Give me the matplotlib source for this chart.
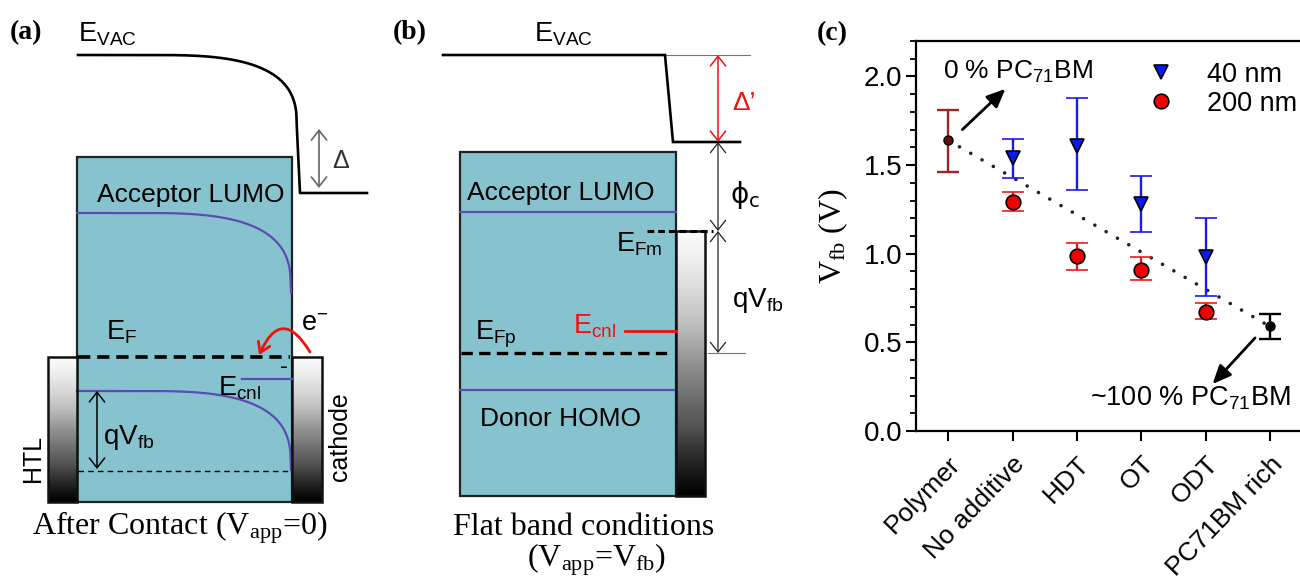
import numpy as np
import matplotlib
matplotlib.use('Agg')
import matplotlib.pyplot as plt
from matplotlib.patches import Rectangle, FancyArrowPatch
from matplotlib.lines import Line2D
from matplotlib.ticker import MultipleLocator

# ---------------- data for panel (c) ----------------
categories = ['Polymer', 'No additive', 'HDT', 'OT', 'ODT', 'PC71BM rich']
x_40nm = [1, 2, 3, 4]
vfb_40nm = [1.54, 1.61, 1.28, 0.98]
vfb_40nm_low = [1.43, 1.36, 1.12, 0.76]
vfb_40nm_high = [1.65, 1.88, 1.44, 1.20]
x_200nm = [1, 2, 3, 4]
vfb_200nm = [1.29, 0.99, 0.91, 0.67]
vfb_200nm_low = [1.24, 0.91, 0.85, 0.63]
vfb_200nm_high = [1.35, 1.06, 0.98, 0.72]
polymer_x = [0]
polymer_vfb = [1.64]
polymer_low = [1.46]
polymer_high = [1.81]
rich_x = [5]
rich_vfb = [0.59]
rich_low = [0.52]
rich_high = [0.66]
yticks = [0.0, 0.5, 1.0, 1.5, 2.0]

SANS = ['Liberation Sans', 'DejaVu Sans']
SERIF = ['Liberation Serif', 'DejaVu Serif']
plt.rcParams['font.family'] = SANS
plt.rcParams['mathtext.default'] = 'regular'

TEAL = '#87C3CE'
PURPLE = '#5A4CB2'
RED = '#F01010'

fig = plt.figure(figsize=(13, 5.85), dpi=100)
ov = fig.add_axes([0, 0, 1, 1])
ov.axis('off')


def drop_curve(x_start, x_corner, y_top, y_bottom, x_c, n=3.0, num=300):
    xs = np.linspace(x_start, x_corner, num)
    u = np.clip((xs - x_c) / (x_corner - x_c), 0, 1)
    ys = y_bottom - (y_bottom - y_top) * (1 - u ** n) ** (1.0 / n)
    return xs, ys


def dbl_arrow(x, y0, y1, color, lw=1.0, hl=0.7, hw=0.55):
    p = FancyArrowPatch((x, y0), (x, y1),
                        arrowstyle='<->,head_length=%g,head_width=%g' % (hl, hw),
                        mutation_scale=10, color=color, lw=lw,
                        shrinkA=0, shrinkB=0, zorder=5)
    ov.add_patch(p)


grad = np.linspace(0.0, 1.0, 256).reshape(-1, 1)


def electrode(x0, x1, y0, y1):
    ov.imshow(grad, cmap='Greys', vmin=-0.03, vmax=1.0,
              extent=(x0, x1, y1, y0), origin='upper', aspect='auto',
              interpolation='bilinear', zorder=2)
    ov.add_patch(Rectangle((x0, y0), x1 - x0, y1 - y0, fill=False,
                           ec='#111111', lw=1.8, zorder=3))


# ---------------- panel (a) ----------------
ov.text(10, 39, '(a)', family=SERIF, weight='bold', fontsize=20, va='baseline')
ov.text(78, 41, '$E_{VAC}$', fontsize=19.5, va='baseline')
xs, ys = drop_curve(78, 297, 55, 131, 150)
ov.plot(list(xs) + [300, 367], list(ys) + [193, 193], color='k', lw=1.9,
        solid_joinstyle='round', zorder=4)
dbl_arrow(319, 129, 188, '#666666', lw=1.2)
ov.text(332, 168, 'Δ', fontsize=18, color='#333333', va='baseline')

ov.add_patch(Rectangle((77, 157), 215, 345, fc=TEAL, ec='#222222', lw=1.6, zorder=1))
xs, ys = drop_curve(77, 291, 213, 293, 140)
ov.plot(xs, ys, color=PURPLE, lw=1.6, zorder=3)
xs, ys = drop_curve(77, 291, 391, 470, 140)
ov.plot(xs, ys, color=PURPLE, lw=1.6, zorder=3)
ov.text(97, 202, 'Acceptor LUMO', fontsize=19, va='baseline')
ov.text(106, 340, '$E_F$', fontsize=19.5, va='baseline')
ov.plot([78, 290], [357, 357], color='k', lw=2.6, dashes=(3.4, 1.9), zorder=4)
ov.plot([78, 290], [471, 471], color='k', lw=1.0, dashes=(4, 3), zorder=4)
ov.plot([242, 292], [379, 379], color=PURPLE, lw=1.6, zorder=4)
ov.text(280, 373, '-', fontsize=17, va='baseline')
ov.text(218, 395, '$E_{cnl}$', fontsize=19.5, va='baseline')
dbl_arrow(97, 391, 469, 'k', lw=1.1)
ov.text(103, 444, '$qV_{fb}$', fontsize=20, va='baseline')
electrode(48, 77, 357, 502)
electrode(292, 322, 357, 502)
ov.text(33, 458, 'HTL', fontsize=18, rotation=90, ha='center', va='center')
ov.text(340, 437, 'cathode', fontsize=18, rotation=90, ha='center', va='center')
ov.text(301, 331, 'e$^{-}$', fontsize=19.5, va='baseline')
ov.add_patch(FancyArrowPatch((310, 352), (259, 355),
                             connectionstyle='arc3,rad=0.95',
                             arrowstyle='->,head_length=0.7,head_width=0.45',
                             mutation_scale=10, color=RED, lw=2.0,
                             shrinkA=0, shrinkB=0, zorder=6))
ov.text(32, 535, 'After Contact ($V_{app}$=0)', family=SERIF, fontsize=23, va='baseline')

# ---------------- panel (b) ----------------
ov.text(393, 39, '(b)', family=SERIF, weight='bold', fontsize=20, va='baseline')
ov.text(534, 41, '$E_{VAC}$', fontsize=19.5, va='baseline')
ov.plot([443, 665, 673, 740], [55, 55, 142, 142], color='k', lw=1.9,
        solid_joinstyle='miter', zorder=4)
ov.plot([665, 750], [55, 55], color='#777777', lw=0.8)
ov.plot([708, 745], [353, 353], color='#777777', lw=0.8)
dbl_arrow(718, 55, 142, RED, lw=1.1)
dbl_arrow(718, 142, 231, '#222222', lw=0.9)
dbl_arrow(718, 231, 353, '#222222', lw=0.9)
ov.text(732, 110, 'Δ’', fontsize=19, color=RED, va='baseline')
ov.text(730, 203, 'ϕ$_c$', fontsize=20, va='baseline', family=['DejaVu Sans'])
ov.text(732, 307, '$qV_{fb}$', fontsize=20, va='baseline')

ov.add_patch(Rectangle((460, 152), 216, 344, fc=TEAL, ec='#222222', lw=1.6, zorder=1))
ov.plot([460, 676], [212, 212], color=PURPLE, lw=1.6, zorder=3)
ov.plot([460, 676], [390, 390], color=PURPLE, lw=1.6, zorder=3)
ov.text(467, 200, 'Acceptor LUMO', fontsize=19, va='baseline')
ov.text(480, 426, 'Donor HOMO', fontsize=19, va='baseline')
electrode(676, 705, 231, 496)
ov.plot([647, 713], [231, 231], color='k', lw=2.2, dashes=(2.2, 1.3), zorder=5)
ov.text(616, 252, '$E_{Fm}$', fontsize=19.5, va='baseline')
ov.plot([461, 670], [353, 353], color='k', lw=2.4, dashes=(3.4, 1.9), zorder=4)
ov.text(475, 340, '$E_{Fp}$', fontsize=19.5, va='baseline')
ov.plot([625, 676], [331, 331], color=RED, lw=2.0, zorder=4)
ov.text(573, 334, '$E_{cnl}$', fontsize=19.5, color=RED, va='baseline')
ov.text(584, 535, 'Flat band conditions', family=SERIF, fontsize=23,
        ha='center', va='baseline')
ov.text(597, 566, '($V_{app}$=$V_{fb}$)', family=SERIF, fontsize=23,
        ha='center', va='baseline')

ov.set_xlim(0, 1300)
ov.set_ylim(585, 0)

# ---------------- panel (c) ----------------
fig.text(817 / 1300, 1 - 40 / 585, '(c)', family=SERIF, weight='bold',
         fontsize=20, va='baseline')
ax = fig.add_axes([916 / 1300, 1 - 431 / 585, (1302 - 916) / 1300, 390 / 585])
ax.set_xlim(-0.5, 5.5)
ax.set_ylim(0, 2.2)

v40 = np.array(vfb_40nm)
e40 = [v40 - np.array(vfb_40nm_low), np.array(vfb_40nm_high) - v40]
v200 = np.array(vfb_200nm)
e200 = [v200 - np.array(vfb_200nm_low), np.array(vfb_200nm_high) - v200]
vp = np.array(polymer_vfb)
ep = [vp - np.array(polymer_low), np.array(polymer_high) - vp]
vr = np.array(rich_vfb)
er = [vr - np.array(rich_low), np.array(rich_high) - vr]

ax.plot([polymer_x[0], rich_x[0]], [polymer_vfb[0], rich_vfb[0]], color='#222222',
        lw=2.6, ls=(0, (0.01, 3.6)), dash_capstyle='round', zorder=1)
ax.errorbar(polymer_x, polymer_vfb, yerr=ep, fmt='o', ecolor='#A32222',
            mfc='#6a0d0d', mec='k', ms=6.5, elinewidth=1.7, capsize=8, capthick=1.7, zorder=3)
ax.errorbar(rich_x, rich_vfb, yerr=er, fmt='o', ecolor='k',
            mfc='k', mec='k', ms=6.5, elinewidth=1.7, capsize=8, capthick=1.7, zorder=3)
ax.errorbar(x_200nm, vfb_200nm, yerr=e200, fmt='o', ecolor='#F01818',
            mfc='#F00000', mec='k', mew=1.2, ms=10.5, elinewidth=1.7, capsize=8,
            capthick=1.7, zorder=3)
ax.errorbar(x_40nm, vfb_40nm, yerr=e40, fmt='v', ecolor='#1a1aF0',
            mfc='#0a1aF0', mec='k', mew=1.2, ms=10.5, elinewidth=1.7, capsize=8,
            capthick=1.7, zorder=4)

ax.set_yticks(yticks)
ax.set_yticklabels(['%.1f' % t for t in yticks])
ax.yaxis.set_minor_locator(MultipleLocator(0.1))
ax.set_xticks(range(len(categories)))
ax.set_xticklabels(categories, rotation=46, ha='right', va='top',
                   rotation_mode='anchor', fontsize=19)
ax.tick_params(axis='y', which='major', length=7, width=1.5, labelsize=20, pad=3)
ax.tick_params(axis='y', which='minor', length=4, width=1.3)
ax.tick_params(axis='x', which='major', length=7, width=1.5, pad=8)
for s in ax.spines.values():
    s.set_linewidth(1.6)
ax.set_ylabel('$V_{fb}$ (V)', family=SERIF, fontsize=23, labelpad=10)

ax.text(-0.08, 2.025, '0 % PC$_{71}$BM', fontsize=19, va='center', ha='left')
ax.annotate('', xy=(0.89, 1.93), xytext=(0.22, 1.70),
            arrowprops=dict(arrowstyle='-|>,head_length=0.8,head_width=0.35',
                            color='k', lw=2.0, shrinkA=0, shrinkB=0,
                            mutation_scale=14))
ax.text(5.32, 0.186, '~100 % PC$_{71}$BM', fontsize=19.5, va='center', ha='right')
ax.annotate('', xy=(4.11, 0.265), xytext=(4.77, 0.525),
            arrowprops=dict(arrowstyle='-|>,head_length=0.8,head_width=0.35',
                            color='k', lw=2.0, shrinkA=0, shrinkB=0,
                            mutation_scale=14))

handles = [Line2D([], [], marker='v', ls='none', mfc='#0a1aF0', mec='k', mew=1.2, ms=10.5),
           Line2D([], [], marker='o', ls='none', mfc='#F00000', mec='k', mew=1.2, ms=10.5)]
ax.legend(handles, ['40 nm', '200 nm'], loc='upper left',
          bbox_to_anchor=(0.600, 0.947), frameon=False, fontsize=19.5,
          handlelength=1.0, handletextpad=1.2, labelspacing=0.12,
          borderpad=0, borderaxespad=0)

fig.savefig('out.png', dpi=100)
